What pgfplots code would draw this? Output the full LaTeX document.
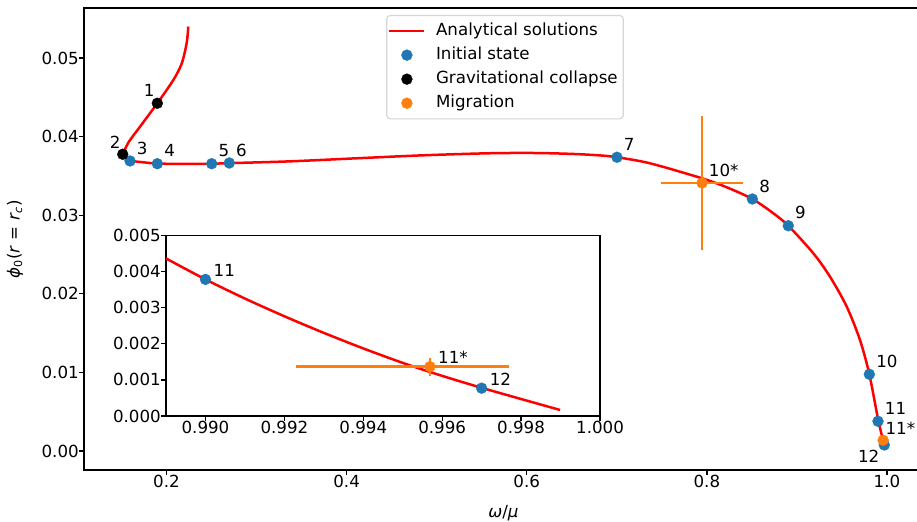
\documentclass[border=0pt]{standalone}
\usepackage{pgfplots}
\pgfplotsset{compat=1.18}
\usepackage{fontspec}
\setmainfont{DejaVu Sans}
\definecolor{mplblue}{HTML}{1F77B4}
\definecolor{mplorange}{HTML}{FF7F0E}
\definecolor{legendgray}{HTML}{D6D6D6}
\newcommand{\fs}{\fontsize{12}{14}\selectfont}
\tikzset{lbl/.style={font=\fs, inner sep=0pt}}
\pgfplotsset{
  mystyle/.style={
    scale only axis,
    clip=false,
    scaled ticks=false,
    axis line style={line width=0.96pt, black},
    tick align=outside,
    tick pos=left,
    major tick length=3.6pt,
    every tick/.style={line width=0.96pt, black},
    xticklabel style={font=\fs, anchor=north, inner sep=0pt, text height=8.75pt, text depth=0pt},
    yticklabel style={font=\fs, anchor=east, inner sep=0pt, text height=8.75pt, text depth=0pt},
    axis background/.style={fill=white},
  },
  legend image code/.code={\draw[mark repeat=2,mark phase=2,#1] plot coordinates {(0pt,0pt) (12.6pt,0pt) (25.2pt,0pt)};},
}
\begin{document}
\begin{tikzpicture}
\useasboundingbox (0,0) rectangle (660.24pt,375.12pt);
\clip (0,0) rectangle (660.24pt,375.12pt);
\begin{axis}[mystyle,
  at={(60.48pt,36.72pt)}, anchor=south west,
  width=604.08pt, height=332.64pt,
  xmin=0.1084, xmax=1.040, ymin=-0.00242, ymax=0.05636,
  xtick={0.2,0.4,0.6,0.8,1.0}, xticklabels={0.2,0.4,0.6,0.8,1.0},
  ytick={0,0.01,0.02,0.03,0.04,0.05}, yticklabels={0.00,0.01,0.02,0.03,0.04,0.05},
  xlabel={\textit{ω}/\textit{μ}},
  ylabel={\textit{ϕ}\textsubscript{0}(\textit{r} = \textit{r}\textsubscript{\textit{c}})},
  label style={font=\fs},
  xlabel style={at={(axis description cs:0.5,-0.0932)}, anchor=center},
  ylabel style={at={(axis description cs:-0.0823,0.5)}, anchor=center},
  legend style={font=\fs, at={(0.5018,0.985)}, anchor=north, draw=legendgray, line width=0.8pt, rounded corners=2.5pt, fill=white, inner xsep=1pt, inner ysep=5.3pt, row sep=5.4pt, nodes={inner xsep=3pt, inner ysep=0pt, text height=9pt, text depth=2.9pt}, /tikz/every odd column/.append style={column sep=4.5pt}},
  legend cell align=left,
]
\addplot[red, line width=1.8pt, no markers, smooth] coordinates {
(0.2242,0.0540) (0.2224,0.0519) (0.2169,0.0493) (0.2076,0.0472) (0.1898,0.04424)
(0.1706,0.04126) (0.1580,0.0393) (0.1514,0.03775)
};
\addlegendentry{Analytical solutions}
\addplot[red, line width=1.8pt, no markers, smooth, forget plot] coordinates {
(0.1514,0.03775) (0.1550,0.03718) (0.1595,0.03693) (0.1742,0.03673) (0.1898,0.03657)
(0.2200,0.03652) (0.2502,0.03655) (0.2697,0.03662) (0.3371,0.03685) (0.4112,0.03724)
(0.4852,0.03762) (0.5592,0.03788) (0.6100,0.03791) (0.6517,0.03779) (0.6818,0.03760)
(0.7002,0.03737) (0.7369,0.03660) (0.7946,0.03469) (0.8220,0.03355) (0.8505,0.03206)
(0.8738,0.03024) (0.8904,0.02866) (0.9182,0.02515) (0.9367,0.02218) (0.9553,0.01836)
(0.9700,0.01412) (0.9804,0.00976) (0.9904,0.00386) (0.9957,0.00137) (0.9970,0.00077)
(0.9989,0.00013)
};
\addplot[only marks, mark=*, mark size=3.95pt, mark options={draw=mplblue, fill=mplblue, line width=0.2pt}] coordinates {
(0.1595,0.0369) (0.1898,0.03655) (0.2502,0.03655) (0.2697,0.03664) (0.7002,0.03737)
(0.8505,0.03206) (0.8904,0.02866) (0.9804,0.00976) (0.9900,0.00378) (0.9970,0.00077)
};
\addlegendentry{Initial state}
\addplot[only marks, mark=*, mark size=3.95pt, mark options={draw=black, fill=black, line width=0.2pt}] coordinates {
(0.1898,0.04424) (0.1514,0.03775)
};
\addlegendentry{Gravitational collapse}
\addplot[only marks, mark=*, mark size=3.95pt, mplorange, mark options={draw=mplorange, fill=mplorange, line width=0.2pt},
  error bars/.cd, x dir=both, x explicit, y dir=both, y explicit, error mark=none,
  error bar style={line width=1.8pt, mplorange}] coordinates {
(0.7946,0.0341) +- (0.045,0.0085)
(0.99569,0.001365) += (0.0020,0.00025) -= (0.0034,0.00025)
};
\addlegendentry{Migration}
\node[lbl, anchor=base east, xshift=-1.8pt, yshift=5pt] at (axis cs:0.1898,0.04424) {1};
\node[lbl, anchor=base east, xshift=-1.4pt, yshift=4.4pt] at (axis cs:0.1514,0.03775) {2};
\node[lbl, anchor=base west, xshift=4.8pt, yshift=5pt] at (axis cs:0.1595,0.0369) {3};
\node[lbl, anchor=base west, xshift=4.8pt, yshift=5pt] at (axis cs:0.1898,0.03655) {4};
\node[lbl, anchor=base west, xshift=4.8pt, yshift=5pt] at (axis cs:0.2502,0.03655) {5};
\node[lbl, anchor=base west, xshift=4.8pt, yshift=5pt] at (axis cs:0.2697,0.03664) {6};
\node[lbl, anchor=base west, xshift=4.8pt, yshift=5pt] at (axis cs:0.7002,0.03737) {7};
\node[lbl, anchor=base west, xshift=4.8pt, yshift=5pt] at (axis cs:0.8505,0.03206) {8};
\node[lbl, anchor=base west, xshift=4.8pt, yshift=5pt] at (axis cs:0.8904,0.02866) {9};
\node[lbl, anchor=base west, xshift=4.8pt, yshift=5pt] at (axis cs:0.9804,0.00976) {10};
\node[lbl, anchor=base west, xshift=4.8pt, yshift=5pt] at (axis cs:0.9900,0.00378) {11};
\node[lbl, anchor=base east, xshift=-3.4pt, yshift=-12.7pt] at (axis cs:0.9970,0.00077) {12};
\node[lbl, anchor=base west, xshift=4.8pt, yshift=5pt] at (axis cs:0.7946,0.0341) {10*};
\node[lbl, anchor=base west, xshift=1.6pt, yshift=4.4pt] at (axis cs:0.99569,0.001365) {11*};
\end{axis}
\begin{axis}[mystyle,
  at={(119.52pt,75.6pt)}, anchor=south west,
  width=312.48pt, height=130.1pt,
  xmin=0.989, xmax=1.0, ymin=0, ymax=0.005,
  xtick={0.990,0.992,0.994,0.996,0.998,1.000}, xticklabels={0.990,0.992,0.994,0.996,0.998,1.000},
  ytick={0,0.001,0.002,0.003,0.004,0.005}, yticklabels={0.000,0.001,0.002,0.003,0.004,0.005},
]
\addplot[red, line width=1.8pt, no markers, smooth] coordinates {
(0.989,0.00436) (0.990,0.00378) (0.991,0.00325) (0.992,0.00276) (0.993,0.00230)
(0.994,0.00187) (0.995,0.00147) (0.996,0.00111) (0.997,0.00078) (0.998,0.00047)
(0.99899,0.000166)
};
\addplot[only marks, mark=*, mark size=3.95pt, mark options={draw=mplblue, fill=mplblue, line width=0.2pt}] coordinates {
(0.9900,0.00378) (0.9970,0.00077)
};
\addplot[only marks, mark=*, mark size=3.95pt, mplorange, mark options={draw=mplorange, fill=mplorange, line width=0.2pt},
  error bars/.cd, x dir=both, x explicit, y dir=both, y explicit, error mark=none,
  error bar style={line width=1.8pt, mplorange}] coordinates {
(0.99569,0.001365) += (0.0020,0.00025) -= (0.0034,0.00025)
};
\node[lbl, anchor=base west, xshift=5.7pt, yshift=2.1pt] at (axis cs:0.9900,0.00378) {11};
\node[lbl, anchor=base west, xshift=5.7pt, yshift=2.1pt] at (axis cs:0.99569,0.001365) {11*};
\node[lbl, anchor=base west, xshift=5.7pt, yshift=2.1pt] at (axis cs:0.9970,0.00077) {12};
\end{axis}
\end{tikzpicture}
\end{document}
